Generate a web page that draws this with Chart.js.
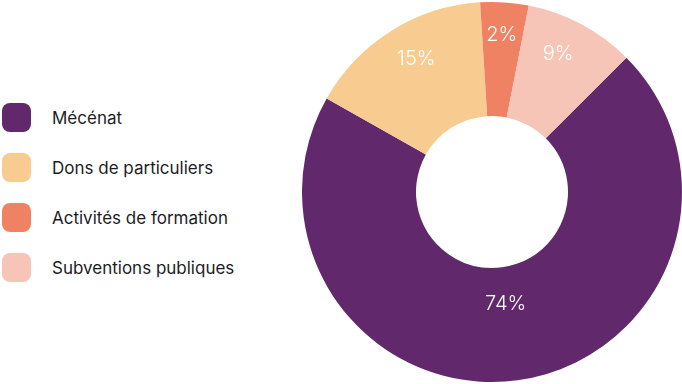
<!DOCTYPE html>
<html>
<head>
<meta charset="utf-8">
<script src="https://cdn.jsdelivr.net/npm/chart.js@4.4.1/dist/chart.umd.min.js"></script>
<style>
  html, body { margin: 0; padding: 0; background: #fff; }
  #wrap { position: relative; width: 682px; height: 384px; font-family: Inter, "Noto Sans", sans-serif; }
  #legend { position: absolute; left: 2px; top: 103px; margin: 0; padding: 0; list-style: none; }
  .lg-item { display: flex; align-items: center; height: 29px; margin-bottom: 21px; }
  .lg-box { width: 29px; height: 29px; border-radius: 8px; margin-right: 21px; flex: none; }
  .lg-text { font-size: 17px; color: #1d1d1f; white-space: nowrap; }
  #chartBox { position: absolute; left: 302px; top: 0; width: 380px; height: 384px; }
</style>
</head>
<body>
<div id="wrap">
  <ul id="legend"></ul>
  <div id="chartBox"><canvas id="funding-chart"></canvas></div>
</div>
<script>
// categories and shares (arc sizes, labels as printed)
const categories = ["Mécénat", "Dons de particuliers", "Activités de formation", "Subventions publiques"];
const shares = [70.7, 15.8, 4.1, 9.4];
const pctLabels = ["74%", "15%", "2%", "9%"];
const colors = ["#61296b", "#f8cc90", "#f08264", "#f7c4b8"];

// HTML legend, built from the chart's own legend items
const htmlLegend = {
  id: "htmlLegend",
  afterUpdate(chart) {
    const ul = document.getElementById("legend");
    const items = chart.options.plugins.legend.labels.generateLabels(chart);
    ul.innerHTML = items
      .map(
        (it) => `<li class="lg-item">
        <span class="lg-box" style="background:${it.fillStyle}"></span>
        <span class="lg-text">${it.text}</span>
      </li>`
      )
      .join("");
  },
};

// percentage text inside each slice
const sliceLabels = {
  id: "sliceLabels",
  afterDatasetsDraw(chart, args, opts) {
    const ctx = chart.ctx;
    const meta = chart.getDatasetMeta(0);
    ctx.save();
    ctx.font = opts.font;
    ctx.fillStyle = opts.color;
    ctx.textAlign = "center";
    ctx.textBaseline = "middle";
    meta.data.forEach((arc, i) => {
      const p = arc.getProps(["x", "y", "startAngle", "endAngle", "innerRadius", "outerRadius"], true);
      const mid = (p.startAngle + p.endAngle) / 2 + (opts.nudge[i] * Math.PI) / 180;
      const r = p.innerRadius + (p.outerRadius - p.innerRadius) * opts.radii[i];
      ctx.fillText(pctLabels[i], p.x + Math.cos(mid) * r, p.y + Math.sin(mid) * r);
    });
    ctx.restore();
  },
};

new Chart(document.getElementById("funding-chart"), {
  type: "doughnut",
  data: {
    labels: categories,
    datasets: [
      {
        data: shares,
        backgroundColor: colors,
        borderWidth: 0,
        hoverOffset: 0,
      },
    ],
  },
  options: {
    responsive: true,
    maintainAspectRatio: false,
    animation: false,
    cutout: "40%",
    rotation: 45,
    layout: { padding: 0 },
    plugins: {
      legend: { display: false },
      tooltip: { enabled: false },
      sliceLabels: {
        font: '300 20px Inter, "Noto Sans", sans-serif',
        color: "#ffffff",
        radii: [0.32, 0.675, 0.71, 0.675],
        nudge: [0.8, 2.4, -0.2, -2.5],
      },
    },
  },
  plugins: [htmlLegend, sliceLabels],
});
</script>
</body>
</html>
